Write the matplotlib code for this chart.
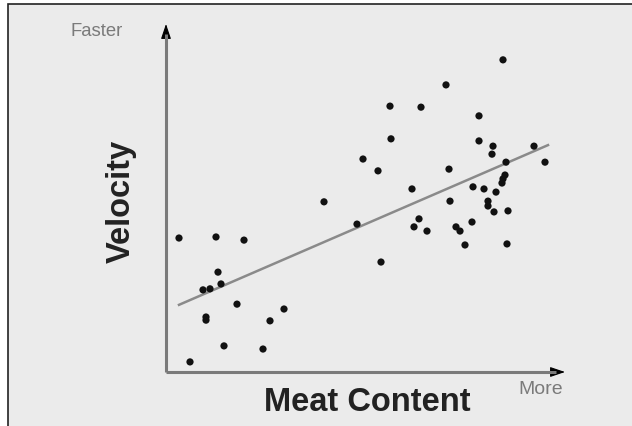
import matplotlib
matplotlib.use("Agg")
import matplotlib.pyplot as plt
from matplotlib.patches import Rectangle, FancyArrowPatch

plt.rcParams["font.family"] = ["Liberation Sans", "DejaVu Sans"]

# Meat content (x) and velocity (y), both on a 0-100 relative scale
meat = [3.25, 12.5, 19.5, 13.0, 9.25, 11.0, 13.75, 17.75, 10.0, 10.0,
        29.5, 26.0, 14.5, 24.25, 6.0, 39.5,
        47.75, 49.25, 53.0, 56.0, 56.25, 61.5, 63.75, 70.0, 70.75, 71.0,
        63.25, 62.0, 65.25, 53.75,
        84.25, 78.25, 78.25, 81.75, 81.5, 92.0, 94.75, 85.0, 84.75, 84.25,
        84.0, 76.75, 79.5, 82.5, 80.5, 80.5, 82.0, 85.5, 76.5, 72.5,
        73.5, 74.75, 85.25]
velocity = [38.5, 38.8, 37.9, 28.7, 23.6, 23.9, 25.3, 19.5, 15.8, 14.9,
            18.1, 14.7, 7.5, 6.6, 2.9, 48.9,
            42.5, 61.2, 57.8, 76.4, 67.0, 52.6, 76.1, 82.5, 58.3, 49.1,
            44.0, 41.7, 40.5, 31.6,
            89.7, 73.6, 66.4, 64.9, 62.6, 64.9, 60.3, 60.3, 56.6, 55.5,
            54.3, 53.2, 52.6, 51.7, 49.1, 47.7, 46.0, 46.3, 43.1, 41.7,
            40.5, 36.5, 36.8]

# Trend line end points
trend_x = [3.25, 95.5]
trend_y = [19.3, 65.2]

W, H = 632, 427
fig = plt.figure(figsize=(W / 100, H / 100), dpi=100)
fig.patch.set_facecolor("white")

# Gray panel with a thin dark frame on its top and left edges
fig.patches.append(Rectangle((8 / W, -0.05), 1.1, 1.05 - 5 / H, transform=fig.transFigure,
                             facecolor="#ebebeb", edgecolor="#222222", linewidth=1.2,
                             zorder=-5))


def fx(px):
    return px / W


def fy(py):
    return 1 - py / H


ax = fig.add_axes([fx(166), fy(373), 400 / W, (373 - 25) / H])
ax.set_xlim(0, 100)
ax.set_ylim(0, 100)
ax.patch.set_visible(False)
for s in ax.spines.values():
    s.set_visible(False)
ax.set_xticks([])
ax.set_yticks([])

# Axis lines with black arrow heads
ax.plot([0, 0.975], [0, 0], color="#7a7a7a", lw=2.2, transform=ax.transAxes,
        clip_on=False, solid_capstyle="butt")
ax.plot([0, 0], [0, 0.97], color="#7a7a7a", lw=2.2, transform=ax.transAxes,
        clip_on=False, solid_capstyle="butt")
head = "-|>,head_length=0.65,head_width=0.22"
ax.add_patch(FancyArrowPatch((0, 0.962), (0, 1.0), transform=ax.transAxes,
                             arrowstyle=head, mutation_scale=14, color="black",
                             lw=0.8, shrinkA=0, shrinkB=0, clip_on=False))
ax.add_patch(FancyArrowPatch((0.965, 0), (0.9975, 0), transform=ax.transAxes,
                             arrowstyle=head, mutation_scale=14, color="black",
                             lw=0.8, shrinkA=0, shrinkB=0, clip_on=False))

ax.plot(trend_x, trend_y, color="#8a8a8a", lw=1.8, zorder=2)
ax.scatter(meat, velocity, s=27, color="#111111", edgecolors="none", zorder=3)

fig.text(fx(123), fy(32), "Faster", ha="right", va="center", fontsize=13.3,
         color="#7a7a7a")
fig.text(fx(541), fy(390), "More", ha="center", va="center", fontsize=14,
         color="#7a7a7a")
fig.text(fx(367), fy(403), "Meat Content", ha="center", va="center",
         fontsize=23.5, fontweight="bold", color="#222222")
fig.text(fx(121), fy(201), "Velocity", ha="center", va="center", rotation=90,
         fontsize=23.5, fontweight="bold", color="#222222")

fig.savefig("out.png", dpi=100)
